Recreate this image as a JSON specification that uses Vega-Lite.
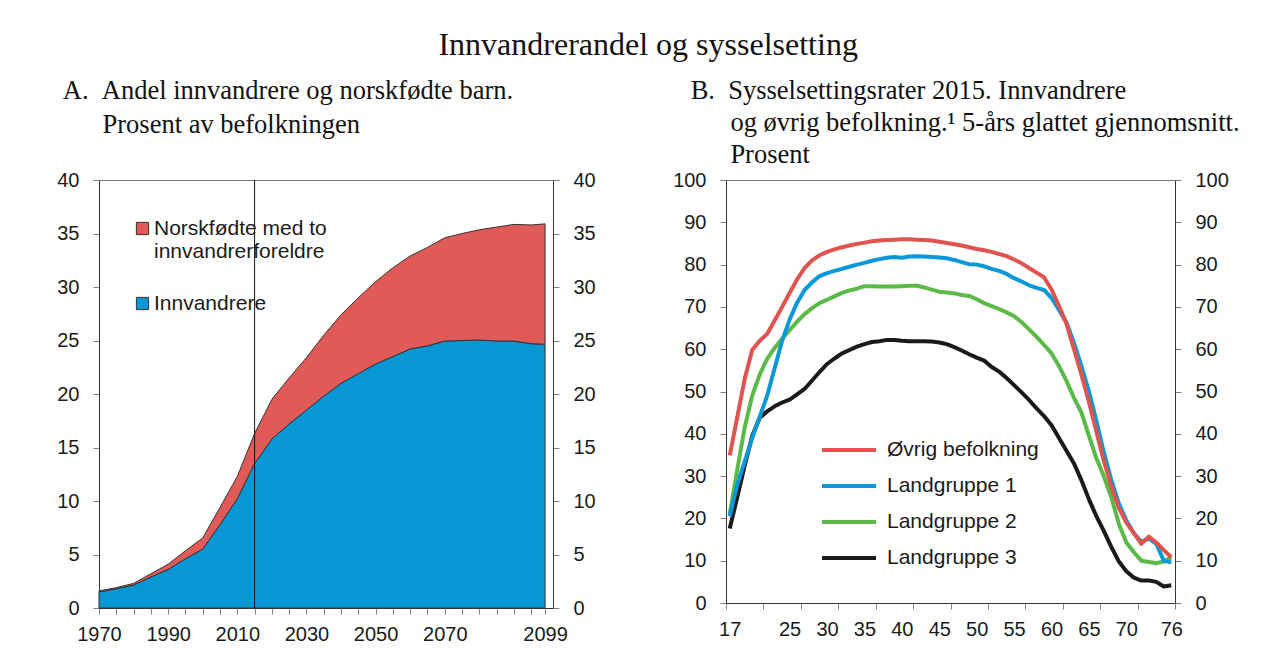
{
  "$schema": "https://vega.github.io/schema/vega-lite/v6.json",
  "background": "white",
  "padding": {"left": 56, "top": 29, "right": 5, "bottom": 5},
  "title": {"text": "Innvandrerandel og sysselsetting", "font": "Liberation Serif", "fontSize": 32, "fontWeight": "normal", "color": "#111111", "anchor": "middle", "offset": 15},
  "config": {
    "view": {"stroke": "#777777", "strokeWidth": 1},
    "axis": {"labelFont": "Liberation Sans", "labelFontSize": 20, "labelColor": "#1a1a1a", "grid": false, "domainColor": "#333333", "tickColor": "#808080", "tickSize": 6, "labelPadding": 14, "title": null, "labelOverlap": false, "labelBound": false, "labelFlush": false},
    "legend": {"labelFont": "Liberation Sans", "labelFontSize": 21, "labelColor": "#1a1a1a", "padding": 0, "title": null, "labelLimit": 0},
    "title": {"font": "Liberation Serif", "fontWeight": "normal", "color": "#111111"}
  },
  "resolve": {"scale": {"color": "independent"}, "legend": {"color": "independent"}},
  "datasets": {
    "andel": [
      {"year": 1970, "group": "Innvandrere", "value": 1.5},
      {"year": 1975, "group": "Innvandrere", "value": 1.8},
      {"year": 1980, "group": "Innvandrere", "value": 2.15},
      {"year": 1985, "group": "Innvandrere", "value": 2.9},
      {"year": 1990, "group": "Innvandrere", "value": 3.6},
      {"year": 1995, "group": "Innvandrere", "value": 4.6},
      {"year": 2000, "group": "Innvandrere", "value": 5.5},
      {"year": 2005, "group": "Innvandrere", "value": 7.8},
      {"year": 2010, "group": "Innvandrere", "value": 10.2},
      {"year": 2015, "group": "Innvandrere", "value": 13.5},
      {"year": 2020, "group": "Innvandrere", "value": 15.8},
      {"year": 2025, "group": "Innvandrere", "value": 17.2},
      {"year": 2030, "group": "Innvandrere", "value": 18.5},
      {"year": 2035, "group": "Innvandrere", "value": 19.8},
      {"year": 2040, "group": "Innvandrere", "value": 21.0},
      {"year": 2045, "group": "Innvandrere", "value": 21.9},
      {"year": 2050, "group": "Innvandrere", "value": 22.8},
      {"year": 2055, "group": "Innvandrere", "value": 23.5},
      {"year": 2060, "group": "Innvandrere", "value": 24.2},
      {"year": 2065, "group": "Innvandrere", "value": 24.5},
      {"year": 2070, "group": "Innvandrere", "value": 24.95},
      {"year": 2075, "group": "Innvandrere", "value": 25.0},
      {"year": 2080, "group": "Innvandrere", "value": 25.05},
      {"year": 2085, "group": "Innvandrere", "value": 24.95},
      {"year": 2090, "group": "Innvandrere", "value": 24.95},
      {"year": 2095, "group": "Innvandrere", "value": 24.7},
      {"year": 2099, "group": "Innvandrere", "value": 24.65},
      {"year": 1970, "group": "Norskfødte med to innvandrerforeldre", "value": 0.1},
      {"year": 1975, "group": "Norskfødte med to innvandrerforeldre", "value": 0.1},
      {"year": 1980, "group": "Norskfødte med to innvandrerforeldre", "value": 0.15},
      {"year": 1985, "group": "Norskfødte med to innvandrerforeldre", "value": 0.3},
      {"year": 1990, "group": "Norskfødte med to innvandrerforeldre", "value": 0.5},
      {"year": 1995, "group": "Norskfødte med to innvandrerforeldre", "value": 0.75},
      {"year": 2000, "group": "Norskfødte med to innvandrerforeldre", "value": 1.05},
      {"year": 2005, "group": "Norskfødte med to innvandrerforeldre", "value": 1.6},
      {"year": 2010, "group": "Norskfødte med to innvandrerforeldre", "value": 2.1},
      {"year": 2015, "group": "Norskfødte med to innvandrerforeldre", "value": 2.8},
      {"year": 2020, "group": "Norskfødte med to innvandrerforeldre", "value": 3.7},
      {"year": 2025, "group": "Norskfødte med to innvandrerforeldre", "value": 4.3},
      {"year": 2030, "group": "Norskfødte med to innvandrerforeldre", "value": 4.9},
      {"year": 2035, "group": "Norskfødte med to innvandrerforeldre", "value": 5.7},
      {"year": 2040, "group": "Norskfødte med to innvandrerforeldre", "value": 6.4},
      {"year": 2045, "group": "Norskfødte med to innvandrerforeldre", "value": 7.1},
      {"year": 2050, "group": "Norskfødte med to innvandrerforeldre", "value": 7.7},
      {"year": 2055, "group": "Norskfødte med to innvandrerforeldre", "value": 8.3},
      {"year": 2060, "group": "Norskfødte med to innvandrerforeldre", "value": 8.7},
      {"year": 2065, "group": "Norskfødte med to innvandrerforeldre", "value": 9.2},
      {"year": 2070, "group": "Norskfødte med to innvandrerforeldre", "value": 9.65},
      {"year": 2075, "group": "Norskfødte med to innvandrerforeldre", "value": 10.0},
      {"year": 2080, "group": "Norskfødte med to innvandrerforeldre", "value": 10.3},
      {"year": 2085, "group": "Norskfødte med to innvandrerforeldre", "value": 10.65},
      {"year": 2090, "group": "Norskfødte med to innvandrerforeldre", "value": 10.9},
      {"year": 2095, "group": "Norskfødte med to innvandrerforeldre", "value": 11.1},
      {"year": 2099, "group": "Norskfødte med to innvandrerforeldre", "value": 11.25}
    ],
    "marker": [{"year": 2015}],
    "rates": [
      {"age": 17, "series": "Landgruppe 3", "value": 17.6}, {"age": 18, "series": "Landgruppe 3", "value": 25.0}, {"age": 19, "series": "Landgruppe 3", "value": 32.5}, {"age": 20, "series": "Landgruppe 3", "value": 39.5}, {"age": 21, "series": "Landgruppe 3", "value": 43.8}, {"age": 22, "series": "Landgruppe 3", "value": 45.3}, {"age": 23, "series": "Landgruppe 3", "value": 46.5}, {"age": 24, "series": "Landgruppe 3", "value": 47.4}, {"age": 25, "series": "Landgruppe 3", "value": 48.1}, {"age": 26, "series": "Landgruppe 3", "value": 49.3}, {"age": 27, "series": "Landgruppe 3", "value": 50.6}, {"age": 28, "series": "Landgruppe 3", "value": 52.6}, {"age": 29, "series": "Landgruppe 3", "value": 54.6}, {"age": 30, "series": "Landgruppe 3", "value": 56.5}, {"age": 31, "series": "Landgruppe 3", "value": 57.8}, {"age": 32, "series": "Landgruppe 3", "value": 59.0}, {"age": 33, "series": "Landgruppe 3", "value": 59.8}, {"age": 34, "series": "Landgruppe 3", "value": 60.6}, {"age": 35, "series": "Landgruppe 3", "value": 61.2}, {"age": 36, "series": "Landgruppe 3", "value": 61.7}, {"age": 37, "series": "Landgruppe 3", "value": 61.9}, {"age": 38, "series": "Landgruppe 3", "value": 62.2}, {"age": 39, "series": "Landgruppe 3", "value": 62.2}, {"age": 40, "series": "Landgruppe 3", "value": 62.0}, {"age": 41, "series": "Landgruppe 3", "value": 61.9}, {"age": 42, "series": "Landgruppe 3", "value": 61.9}, {"age": 43, "series": "Landgruppe 3", "value": 61.9}, {"age": 44, "series": "Landgruppe 3", "value": 61.8}, {"age": 45, "series": "Landgruppe 3", "value": 61.6}, {"age": 46, "series": "Landgruppe 3", "value": 61.2}, {"age": 47, "series": "Landgruppe 3", "value": 60.5}, {"age": 48, "series": "Landgruppe 3", "value": 59.7}, {"age": 49, "series": "Landgruppe 3", "value": 58.8}, {"age": 50, "series": "Landgruppe 3", "value": 58.0}, {"age": 51, "series": "Landgruppe 3", "value": 57.3}, {"age": 52, "series": "Landgruppe 3", "value": 55.8}, {"age": 53, "series": "Landgruppe 3", "value": 54.7}, {"age": 54, "series": "Landgruppe 3", "value": 53.2}, {"age": 55, "series": "Landgruppe 3", "value": 51.5}, {"age": 56, "series": "Landgruppe 3", "value": 49.8}, {"age": 57, "series": "Landgruppe 3", "value": 48.0}, {"age": 58, "series": "Landgruppe 3", "value": 46.0}, {"age": 59, "series": "Landgruppe 3", "value": 44.2}, {"age": 60, "series": "Landgruppe 3", "value": 42.0}, {"age": 61, "series": "Landgruppe 3", "value": 39.0}, {"age": 62, "series": "Landgruppe 3", "value": 36.0}, {"age": 63, "series": "Landgruppe 3", "value": 33.0}, {"age": 64, "series": "Landgruppe 3", "value": 29.0}, {"age": 65, "series": "Landgruppe 3", "value": 24.5}, {"age": 66, "series": "Landgruppe 3", "value": 20.5}, {"age": 67, "series": "Landgruppe 3", "value": 17.0}, {"age": 68, "series": "Landgruppe 3", "value": 13.2}, {"age": 69, "series": "Landgruppe 3", "value": 9.8}, {"age": 70, "series": "Landgruppe 3", "value": 7.5}, {"age": 71, "series": "Landgruppe 3", "value": 6.0}, {"age": 72, "series": "Landgruppe 3", "value": 5.3}, {"age": 73, "series": "Landgruppe 3", "value": 5.3}, {"age": 74, "series": "Landgruppe 3", "value": 5.0}, {"age": 75, "series": "Landgruppe 3", "value": 3.9}, {"age": 76, "series": "Landgruppe 3", "value": 4.2},
      {"age": 17, "series": "Landgruppe 2", "value": 21.0}, {"age": 18, "series": "Landgruppe 2", "value": 31.5}, {"age": 19, "series": "Landgruppe 2", "value": 41.5}, {"age": 20, "series": "Landgruppe 2", "value": 49.0}, {"age": 21, "series": "Landgruppe 2", "value": 54.0}, {"age": 22, "series": "Landgruppe 2", "value": 57.7}, {"age": 23, "series": "Landgruppe 2", "value": 60.3}, {"age": 24, "series": "Landgruppe 2", "value": 62.5}, {"age": 25, "series": "Landgruppe 2", "value": 64.5}, {"age": 26, "series": "Landgruppe 2", "value": 66.5}, {"age": 27, "series": "Landgruppe 2", "value": 68.3}, {"age": 28, "series": "Landgruppe 2", "value": 69.7}, {"age": 29, "series": "Landgruppe 2", "value": 70.9}, {"age": 30, "series": "Landgruppe 2", "value": 71.7}, {"age": 31, "series": "Landgruppe 2", "value": 72.5}, {"age": 32, "series": "Landgruppe 2", "value": 73.3}, {"age": 33, "series": "Landgruppe 2", "value": 73.9}, {"age": 34, "series": "Landgruppe 2", "value": 74.3}, {"age": 35, "series": "Landgruppe 2", "value": 74.9}, {"age": 36, "series": "Landgruppe 2", "value": 74.9}, {"age": 37, "series": "Landgruppe 2", "value": 74.8}, {"age": 38, "series": "Landgruppe 2", "value": 74.8}, {"age": 39, "series": "Landgruppe 2", "value": 74.8}, {"age": 40, "series": "Landgruppe 2", "value": 74.9}, {"age": 41, "series": "Landgruppe 2", "value": 75.0}, {"age": 42, "series": "Landgruppe 2", "value": 75.0}, {"age": 43, "series": "Landgruppe 2", "value": 74.6}, {"age": 44, "series": "Landgruppe 2", "value": 74.1}, {"age": 45, "series": "Landgruppe 2", "value": 73.6}, {"age": 46, "series": "Landgruppe 2", "value": 73.4}, {"age": 47, "series": "Landgruppe 2", "value": 73.2}, {"age": 48, "series": "Landgruppe 2", "value": 72.8}, {"age": 49, "series": "Landgruppe 2", "value": 72.6}, {"age": 50, "series": "Landgruppe 2", "value": 71.8}, {"age": 51, "series": "Landgruppe 2", "value": 70.9}, {"age": 52, "series": "Landgruppe 2", "value": 70.2}, {"age": 53, "series": "Landgruppe 2", "value": 69.5}, {"age": 54, "series": "Landgruppe 2", "value": 68.7}, {"age": 55, "series": "Landgruppe 2", "value": 67.8}, {"age": 56, "series": "Landgruppe 2", "value": 66.4}, {"age": 57, "series": "Landgruppe 2", "value": 64.7}, {"age": 58, "series": "Landgruppe 2", "value": 62.9}, {"age": 59, "series": "Landgruppe 2", "value": 61.0}, {"age": 60, "series": "Landgruppe 2", "value": 59.0}, {"age": 61, "series": "Landgruppe 2", "value": 56.0}, {"age": 62, "series": "Landgruppe 2", "value": 52.5}, {"age": 63, "series": "Landgruppe 2", "value": 48.5}, {"age": 64, "series": "Landgruppe 2", "value": 45.0}, {"age": 65, "series": "Landgruppe 2", "value": 39.5}, {"age": 66, "series": "Landgruppe 2", "value": 34.2}, {"age": 67, "series": "Landgruppe 2", "value": 29.9}, {"age": 68, "series": "Landgruppe 2", "value": 25.0}, {"age": 69, "series": "Landgruppe 2", "value": 18.7}, {"age": 70, "series": "Landgruppe 2", "value": 14.3}, {"age": 71, "series": "Landgruppe 2", "value": 12.0}, {"age": 72, "series": "Landgruppe 2", "value": 10.0}, {"age": 73, "series": "Landgruppe 2", "value": 9.7}, {"age": 74, "series": "Landgruppe 2", "value": 9.4}, {"age": 75, "series": "Landgruppe 2", "value": 9.8}, {"age": 76, "series": "Landgruppe 2", "value": 10.8},
      {"age": 17, "series": "Landgruppe 1", "value": 20.5}, {"age": 18, "series": "Landgruppe 1", "value": 28.0}, {"age": 19, "series": "Landgruppe 1", "value": 33.5}, {"age": 20, "series": "Landgruppe 1", "value": 39.0}, {"age": 21, "series": "Landgruppe 1", "value": 44.0}, {"age": 22, "series": "Landgruppe 1", "value": 49.0}, {"age": 23, "series": "Landgruppe 1", "value": 55.5}, {"age": 24, "series": "Landgruppe 1", "value": 62.0}, {"age": 25, "series": "Landgruppe 1", "value": 67.0}, {"age": 26, "series": "Landgruppe 1", "value": 71.0}, {"age": 27, "series": "Landgruppe 1", "value": 74.0}, {"age": 28, "series": "Landgruppe 1", "value": 75.8}, {"age": 29, "series": "Landgruppe 1", "value": 77.3}, {"age": 30, "series": "Landgruppe 1", "value": 78.0}, {"age": 31, "series": "Landgruppe 1", "value": 78.5}, {"age": 32, "series": "Landgruppe 1", "value": 79.0}, {"age": 33, "series": "Landgruppe 1", "value": 79.5}, {"age": 34, "series": "Landgruppe 1", "value": 80.0}, {"age": 35, "series": "Landgruppe 1", "value": 80.4}, {"age": 36, "series": "Landgruppe 1", "value": 80.9}, {"age": 37, "series": "Landgruppe 1", "value": 81.3}, {"age": 38, "series": "Landgruppe 1", "value": 81.6}, {"age": 39, "series": "Landgruppe 1", "value": 81.8}, {"age": 40, "series": "Landgruppe 1", "value": 81.6}, {"age": 41, "series": "Landgruppe 1", "value": 81.9}, {"age": 42, "series": "Landgruppe 1", "value": 82.0}, {"age": 43, "series": "Landgruppe 1", "value": 81.9}, {"age": 44, "series": "Landgruppe 1", "value": 81.8}, {"age": 45, "series": "Landgruppe 1", "value": 81.7}, {"age": 46, "series": "Landgruppe 1", "value": 81.5}, {"age": 47, "series": "Landgruppe 1", "value": 81.1}, {"age": 48, "series": "Landgruppe 1", "value": 80.6}, {"age": 49, "series": "Landgruppe 1", "value": 80.1}, {"age": 50, "series": "Landgruppe 1", "value": 80.0}, {"age": 51, "series": "Landgruppe 1", "value": 79.6}, {"age": 52, "series": "Landgruppe 1", "value": 79.0}, {"age": 53, "series": "Landgruppe 1", "value": 78.5}, {"age": 54, "series": "Landgruppe 1", "value": 77.8}, {"age": 55, "series": "Landgruppe 1", "value": 76.8}, {"age": 56, "series": "Landgruppe 1", "value": 76.0}, {"age": 57, "series": "Landgruppe 1", "value": 75.1}, {"age": 58, "series": "Landgruppe 1", "value": 74.5}, {"age": 59, "series": "Landgruppe 1", "value": 74.0}, {"age": 60, "series": "Landgruppe 1", "value": 72.1}, {"age": 61, "series": "Landgruppe 1", "value": 69.3}, {"age": 62, "series": "Landgruppe 1", "value": 66.3}, {"age": 63, "series": "Landgruppe 1", "value": 61.5}, {"age": 64, "series": "Landgruppe 1", "value": 56.0}, {"age": 65, "series": "Landgruppe 1", "value": 50.0}, {"age": 66, "series": "Landgruppe 1", "value": 43.0}, {"age": 67, "series": "Landgruppe 1", "value": 35.5}, {"age": 68, "series": "Landgruppe 1", "value": 29.0}, {"age": 69, "series": "Landgruppe 1", "value": 23.5}, {"age": 70, "series": "Landgruppe 1", "value": 19.5}, {"age": 71, "series": "Landgruppe 1", "value": 16.5}, {"age": 72, "series": "Landgruppe 1", "value": 14.5}, {"age": 73, "series": "Landgruppe 1", "value": 15.2}, {"age": 74, "series": "Landgruppe 1", "value": 14.0}, {"age": 75, "series": "Landgruppe 1", "value": 10.0}, {"age": 76, "series": "Landgruppe 1", "value": 9.6},
      {"age": 17, "series": "Øvrig befolkning", "value": 34.9}, {"age": 18, "series": "Øvrig befolkning", "value": 43.9}, {"age": 19, "series": "Øvrig befolkning", "value": 53.0}, {"age": 20, "series": "Øvrig befolkning", "value": 59.8}, {"age": 21, "series": "Øvrig befolkning", "value": 62.0}, {"age": 22, "series": "Øvrig befolkning", "value": 63.6}, {"age": 23, "series": "Øvrig befolkning", "value": 66.8}, {"age": 24, "series": "Øvrig befolkning", "value": 70.0}, {"age": 25, "series": "Øvrig befolkning", "value": 73.3}, {"age": 26, "series": "Øvrig befolkning", "value": 76.5}, {"age": 27, "series": "Øvrig befolkning", "value": 79.2}, {"age": 28, "series": "Øvrig befolkning", "value": 81.0}, {"age": 29, "series": "Øvrig befolkning", "value": 82.2}, {"age": 30, "series": "Øvrig befolkning", "value": 83.0}, {"age": 31, "series": "Øvrig befolkning", "value": 83.6}, {"age": 32, "series": "Øvrig befolkning", "value": 84.1}, {"age": 33, "series": "Øvrig befolkning", "value": 84.5}, {"age": 34, "series": "Øvrig befolkning", "value": 84.9}, {"age": 35, "series": "Øvrig befolkning", "value": 85.2}, {"age": 36, "series": "Øvrig befolkning", "value": 85.5}, {"age": 37, "series": "Øvrig befolkning", "value": 85.7}, {"age": 38, "series": "Øvrig befolkning", "value": 85.8}, {"age": 39, "series": "Øvrig befolkning", "value": 85.9}, {"age": 40, "series": "Øvrig befolkning", "value": 86.0}, {"age": 41, "series": "Øvrig befolkning", "value": 86.0}, {"age": 42, "series": "Øvrig befolkning", "value": 85.9}, {"age": 43, "series": "Øvrig befolkning", "value": 85.8}, {"age": 44, "series": "Øvrig befolkning", "value": 85.7}, {"age": 45, "series": "Øvrig befolkning", "value": 85.4}, {"age": 46, "series": "Øvrig befolkning", "value": 85.1}, {"age": 47, "series": "Øvrig befolkning", "value": 84.8}, {"age": 48, "series": "Øvrig befolkning", "value": 84.5}, {"age": 49, "series": "Øvrig befolkning", "value": 84.1}, {"age": 50, "series": "Øvrig befolkning", "value": 83.7}, {"age": 51, "series": "Øvrig befolkning", "value": 83.4}, {"age": 52, "series": "Øvrig befolkning", "value": 83.0}, {"age": 53, "series": "Øvrig befolkning", "value": 82.5}, {"age": 54, "series": "Øvrig befolkning", "value": 82.0}, {"age": 55, "series": "Øvrig befolkning", "value": 81.2}, {"age": 56, "series": "Øvrig befolkning", "value": 80.3}, {"age": 57, "series": "Øvrig befolkning", "value": 79.2}, {"age": 58, "series": "Øvrig befolkning", "value": 78.1}, {"age": 59, "series": "Øvrig befolkning", "value": 77.0}, {"age": 60, "series": "Øvrig befolkning", "value": 74.1}, {"age": 61, "series": "Øvrig befolkning", "value": 70.2}, {"age": 62, "series": "Øvrig befolkning", "value": 66.0}, {"age": 63, "series": "Øvrig befolkning", "value": 60.0}, {"age": 64, "series": "Øvrig befolkning", "value": 54.0}, {"age": 65, "series": "Øvrig befolkning", "value": 47.5}, {"age": 66, "series": "Øvrig befolkning", "value": 40.5}, {"age": 67, "series": "Øvrig befolkning", "value": 33.5}, {"age": 68, "series": "Øvrig befolkning", "value": 27.5}, {"age": 69, "series": "Øvrig befolkning", "value": 22.5}, {"age": 70, "series": "Øvrig befolkning", "value": 19.0}, {"age": 71, "series": "Øvrig befolkning", "value": 16.5}, {"age": 72, "series": "Øvrig befolkning", "value": 14.0}, {"age": 73, "series": "Øvrig befolkning", "value": 15.7}, {"age": 74, "series": "Øvrig befolkning", "value": 14.3}, {"age": 75, "series": "Øvrig befolkning", "value": 12.5}, {"age": 76, "series": "Øvrig befolkning", "value": 10.8}
    ]
  },
  "spacing": 76,
  "hconcat": [
    {
      "width": 454,
      "height": 428,
      "title": {"text": ["A.\u00a0\u00a0Andel innvandrere og norskfødte barn.", "\u200b\u00a0\u00a0\u00a0\u00a0\u00a0\u00a0Prosent av befolkningen"], "anchor": "start", "dx": 6, "fontSize": 26.5, "lineHeight": 34, "offset": 32},
      "layer": [
        {
          "data": {"name": "andel"},
          "mark": {"type": "area", "stroke": "#333333", "strokeWidth": 1},
          "encoding": {
            "x": {"field": "year", "type": "quantitative", "scale": {"domain": [1970, 2101.3], "nice": false, "zero": false},
              "axis": {"orient": "bottom", "values": [1970, 1990, 2010, 2030, 2050, 2070, 2099], "format": "d", "tickOpacity": 0, "labelPadding": 10}},
            "y": {"field": "value", "type": "quantitative", "stack": "zero", "scale": {"domain": [0, 40], "nice": false},
              "axis": {"orient": "left", "values": [0, 5, 10, 15, 20, 25, 30, 35, 40]}},
            "order": {"field": "group", "type": "nominal", "sort": "ascending"},
            "color": {"field": "group", "type": "nominal",
              "scale": {"domain": ["Norskfødte med to innvandrerforeldre", "Innvandrere"], "range": ["#e05a57", "#0897d5"]},
              "legend": {"orient": "none", "legendX": 33, "legendY": 38, "symbolType": "square", "symbolSize": 150, "symbolStrokeColor": "#333333", "symbolStrokeWidth": 1, "symbolOpacity": 1, "labelOffset": 1, "rowPadding": 30,
                "labelExpr": "datum.label == 'Norskfødte med to innvandrerforeldre' ? ['Norskfødte med to', 'innvandrerforeldre'] : datum.label"}}
          }
        },
        {
          "data": {"name": "marker"},
          "mark": {"type": "rule", "color": "#111111", "strokeWidth": 1},
          "encoding": {
            "x": {"field": "year", "type": "quantitative",
              "axis": {"orient": "bottom", "values": [1970, 1975, 1980, 1985, 1990, 1995, 2000, 2005, 2010, 2015, 2020, 2025, 2030, 2035, 2040, 2045, 2050, 2055, 2060, 2065, 2070, 2075, 2080, 2085, 2090, 2095, 2099], "labels": false, "domain": false}},
            "y": {"datum": 0, "type": "quantitative", "axis": {"orient": "right", "values": [0, 5, 10, 15, 20, 25, 30, 35, 40]}},
            "y2": {"datum": 40}
          }
        }
      ],
      "resolve": {"axis": {"x": "independent", "y": "independent"}}
    },
    {
      "width": 449,
      "height": 423,
      "title": {"text": ["B.\u00a0\u00a0Sysselsettingsrater 2015. Innvandrere", "\u200b\u00a0\u00a0\u00a0\u00a0\u00a0\u00a0og øvrig befolkning.¹ 5-års glattet gjennomsnitt.", "\u200b\u00a0\u00a0\u00a0\u00a0\u00a0\u00a0Prosent"], "anchor": "start", "dx": 18, "fontSize": 26.5, "lineHeight": 32, "offset": 2},
      "data": {"name": "rates"},
      "layer": [
        {
          "mark": {"type": "line", "strokeWidth": 4, "strokeJoin": "round"},
          "encoding": {
            "x": {"field": "age", "type": "quantitative", "scale": {"domain": [16.5, 76.5], "nice": false, "zero": false},
              "axis": {"orient": "bottom", "values": [17, 25, 30, 35, 40, 45, 50, 55, 60, 65, 70, 76], "format": "d", "tickOpacity": 0, "labelPadding": 10}},
            "y": {"field": "value", "type": "quantitative", "scale": {"domain": [0, 100], "nice": false},
              "axis": {"orient": "left", "values": [0, 10, 20, 30, 40, 50, 60, 70, 80, 90, 100]}},
            "color": {"field": "series", "type": "nominal",
              "scale": {"domain": ["Øvrig befolkning", "Landgruppe 1", "Landgruppe 2", "Landgruppe 3"], "range": ["#e0534f", "#0a98d8", "#5ab947", "#1a1a1a"]},
              "legend": {"orient": "none", "legendX": 103, "legendY": 250, "symbolType": "M-1.5,0H1.5", "symbolSize": 1296, "symbolStrokeWidth": 4, "labelOffset": 18, "rowPadding": 6}}
          }
        },
        {
          "mark": {"type": "line", "opacity": 0, "color": "white"},
          "encoding": {
            "x": {"field": "age", "type": "quantitative",
              "axis": {"orient": "bottom", "values": [16.5, 21.5, 26.5, 31.5, 36.5, 41.5, 46.5, 51.5, 56.5, 61.5, 66.5, 71.5, 76.5], "labels": false, "domain": false}},
            "y": {"field": "value", "type": "quantitative", "axis": {"orient": "right", "values": [0, 10, 20, 30, 40, 50, 60, 70, 80, 90, 100]}},
            "detail": {"field": "series", "type": "nominal"}
          }
        }
      ],
      "resolve": {"axis": {"x": "independent", "y": "independent"}}
    }
  ]
}
